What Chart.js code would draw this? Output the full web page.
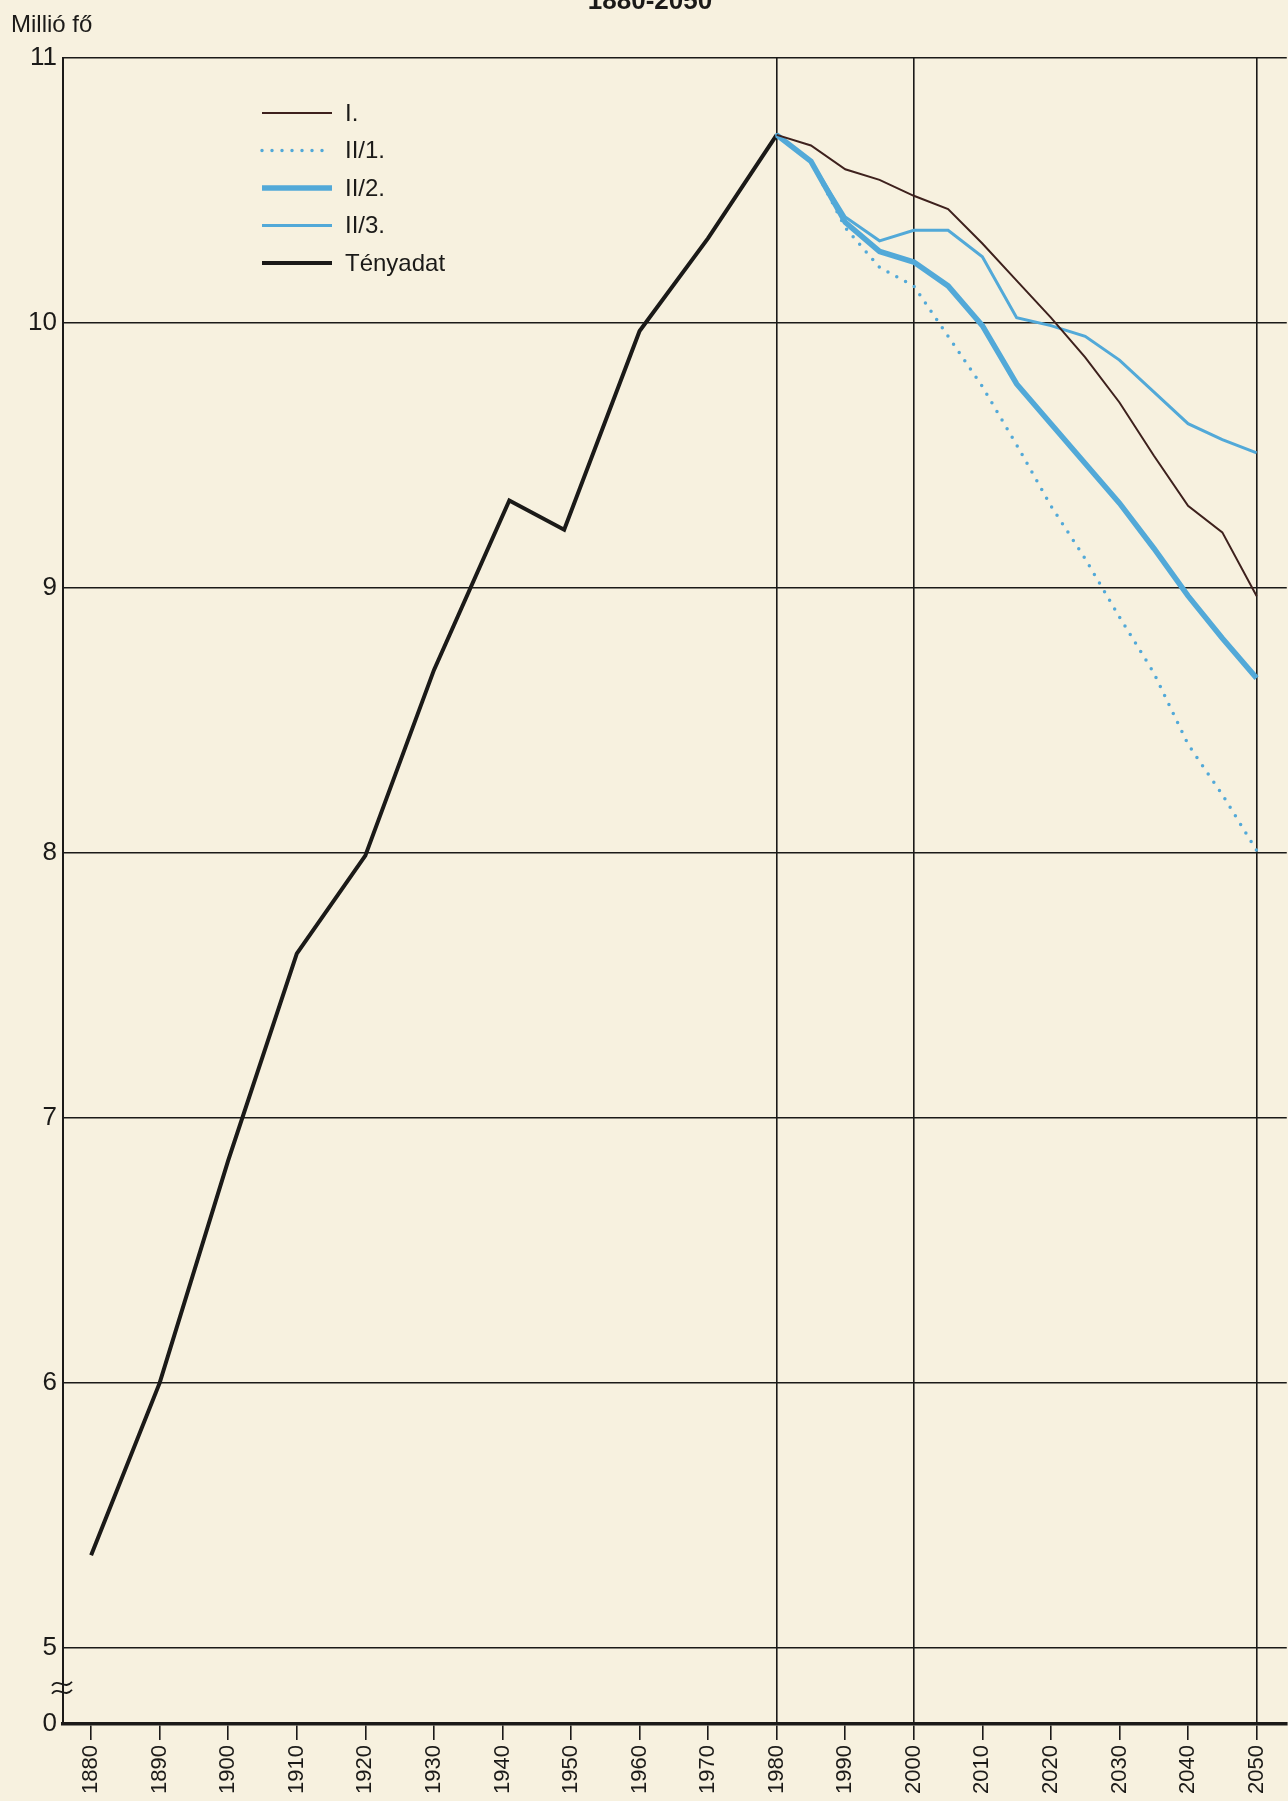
<!DOCTYPE html>
<html>
<head>
<meta charset="utf-8">
<script src="https://cdn.jsdelivr.net/npm/chart.js@4.4.1/dist/chart.umd.min.js"></script>
<style>
  html, body { margin: 0; padding: 0; background: #f7f1df; }
  canvas { display: block; }
</style>
</head>
<body>
<canvas id="chart" width="1288" height="1801"></canvas>
<script>
// census data (Tényadat)
const actualYears = [1880, 1890, 1900, 1910, 1920, 1930, 1941, 1949, 1960, 1970, 1980]
const actualValues = [5.35, 6.0, 6.84, 7.62, 7.99, 8.69, 9.33, 9.22, 9.97, 10.32, 10.71]

// projection variants, every 5 years from 1980
const projYears = [1980, 1985, 1990, 1995, 2000, 2005, 2010, 2015, 2020, 2025, 2030, 2035, 2040, 2045, 2050]
const variantI = [10.71, 10.67, 10.58, 10.54, 10.48, 10.43, 10.30, 10.16, 10.02, 9.87, 9.70, 9.50, 9.31, 9.21, 8.97]
const variantII1 = [10.71, 10.61, 10.36, 10.21, 10.14, 9.95, 9.76, 9.54, 9.31, 9.11, 8.89, 8.68, 8.41, 8.22, 8.01]
const variantII2 = [10.71, 10.61, 10.38, 10.27, 10.23, 10.14, 9.99, 9.77, 9.62, 9.47, 9.32, 9.15, 8.97, 8.81, 8.66]
const variantII3 = [10.71, 10.61, 10.40, 10.31, 10.35, 10.35, 10.25, 10.02, 9.99, 9.95, 9.86, 9.74, 9.62, 9.56, 9.51]

const yearTicks = [1880, 1890, 1900, 1910, 1920, 1930, 1940, 1950, 1960, 1970, 1980, 1990, 2000, 2010, 2020, 2030, 2040, 2050]
const gridYears = [1980, 2000, 2050]
const valueTicks = [5, 6, 7, 8, 9, 10, 11]

const paper = '#f7f1df'
const ink = '#1b1a18'
const blue = '#52a9d8'
const brown = '#3e211d'
const font = '"Liberation Sans", Arial, sans-serif'

const xMin = 1875.9, xMax = 2054.4
const yZero = 4.713 // the broken axis: "0" sits just below 5

const pts = (xs, ys) => xs.map((x, i) => ({ x: x, y: ys[i] }))

Chart.defaults.font.family = font
Chart.defaults.color = ink

const paperBg = {
  id: 'paperBg',
  beforeDraw(chart) {
    const c = chart.ctx
    c.save()
    c.fillStyle = paper
    c.fillRect(0, 0, chart.width, chart.height)
    c.restore()
  }
}

// title (cut off at top), unit label, axis break and legend
const extras = {
  id: 'extras',
  afterDraw(chart) {
    const c = chart.ctx
    const area = chart.chartArea
    c.save()
    c.fillStyle = ink
    c.font = 'bold 26px ' + font
    c.textAlign = 'center'
    c.textBaseline = 'alphabetic'
    c.fillText('1880-2050', 650, 9)

    c.font = '24px ' + font
    c.textAlign = 'left'
    c.fillText('Millió fő', 11, 32)

    // break marker on y axis
    const bx = area.left, by = chart.scales.y.getPixelForValue(4.85)
    c.strokeStyle = ink
    c.lineWidth = 1.8
    ;[-4, 4].forEach(off => {
      c.beginPath()
      c.moveTo(bx - 11, by + off + 2)
      c.bezierCurveTo(bx - 5, by + off - 6, bx + 2, by + off + 7, bx + 9, by + off - 2)
      c.stroke()
    })

    // legend
    const lx = 262, ly = 113, len = 70, row = 37.5
    chart.data.datasets.forEach((ds, i) => {
      const y = ly + i * row
      c.save()
      c.strokeStyle = ds.borderColor
      c.lineWidth = ds.borderWidth
      c.lineCap = ds.borderCapStyle || 'butt'
      c.setLineDash(ds.borderDash || [])
      c.beginPath()
      c.moveTo(lx, y)
      c.lineTo(lx + len, y)
      c.stroke()
      c.restore()
      c.fillStyle = ink
      c.font = '24px ' + font
      c.textBaseline = 'middle'
      c.fillText(ds.label, lx + len + 13, y + 1)
    })
    c.restore()
  }
}

new Chart(document.getElementById('chart'), {
  type: 'line',
  data: {
    datasets: [
      { label: 'I.', data: pts(projYears, variantI), borderColor: brown, borderWidth: 2 },
      { label: 'II/1.', data: pts(projYears, variantII1), borderColor: blue, borderWidth: 3.5, borderDash: [0, 10], borderCapStyle: 'round' },
      { label: 'II/2.', data: pts(projYears, variantII2), borderColor: blue, borderWidth: 5.5 },
      { label: 'II/3.', data: pts(projYears, variantII3), borderColor: blue, borderWidth: 3 },
      { label: 'Tényadat', data: pts(actualYears, actualValues), borderColor: ink, borderWidth: 4 }
    ]
  },
  options: {
    responsive: false,
    animation: false,
    layout: { padding: { top: 58, left: 0, right: 0, bottom: 0 } },
    elements: { point: { radius: 0 }, line: { tension: 0 } },
    plugins: { legend: { display: false }, tooltip: { enabled: false } },
    scales: {
      x: {
        type: 'linear',
        min: xMin,
        max: xMax,
        afterBuildTicks: s => { s.ticks = yearTicks.map(v => ({ value: v })) },
        afterFit: s => { s.height = 77 },
        ticks: {
          autoSkip: false,
          minRotation: 90,
          maxRotation: 90,
          padding: 5,
          font: { size: 22 },
          callback: v => String(v)
        },
        grid: {
          color: ctx => (ctx.tick && gridYears.includes(ctx.tick.value)) ? ink : 'rgba(0,0,0,0)',
          lineWidth: 1.6,
          tickColor: ink,
          tickWidth: 1.6,
          tickLength: 16
        },
        border: { display: true, color: ink, width: 3.5 }
      },
      y: {
        min: yZero,
        max: 11,
        afterBuildTicks: s => { s.ticks = [yZero].concat(valueTicks).map(v => ({ value: v })) },
        afterFit: s => { s.width = 63 },
        ticks: {
          padding: 6,
          font: { size: 26 },
          callback: v => v < 5 ? '0' : String(v)
        },
        grid: {
          color: ctx => (ctx.tick && ctx.tick.value < 5) ? 'rgba(0,0,0,0)' : ink,
          lineWidth: 1.6,
          drawTicks: false
        },
        border: { display: true, color: ink, width: 2 }
      }
    }
  },
  plugins: [paperBg, extras]
})
</script>
</body>
</html>
